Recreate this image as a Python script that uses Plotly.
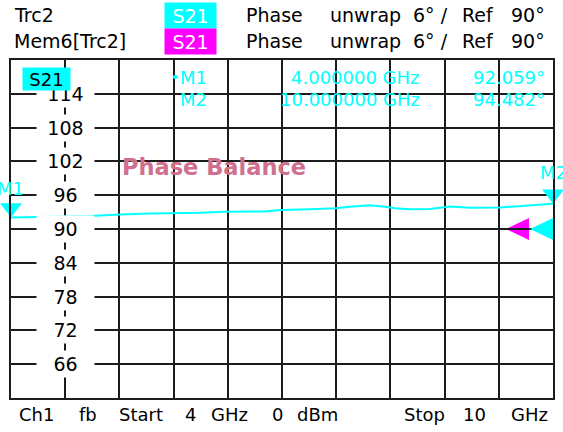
import plotly.graph_objects as go

# ---------------- data ----------------
freq_ghz = [4.000, 4.432, 4.875, 5.207, 5.539, 6.092, 6.369, 6.812, 6.978, 7.310, 7.587,
            7.753, 7.974, 8.140, 8.251, 8.417, 8.638, 8.860, 9.081, 9.413, 9.690, 10.000]
phase_deg = [92.059, 92.13, 92.31, 92.57, 92.75, 92.89, 93.07, 93.11, 93.37, 93.50, 93.67,
             93.96, 94.21, 93.96, 93.67, 93.50, 93.55, 93.99, 93.76, 93.82, 94.17, 94.482]
marker_labels = ["M1", "M2"]
marker_freq_ghz = [4.0, 10.0]
marker_phase_deg = [92.059, 94.482]
y_tick_labels = [114, 108, 102, 96, 90, 84, 78, 72, 66]
ref_level_deg = 90
scale_deg_per_div = 6
start_ghz = 4
stop_ghz = 10
n_div = 10

# ---------------- layout helpers ----------------
W, H = 563, 432
L, R, T, B = 11, 10, 60, 34
PW = W - L - R
PH = H - T - B
FONT = "DejaVu Sans"
CYAN = "#00FFFF"
MAGENTA = "#FF00FF"
GRID = "#1c1c1c"


def px(xpix):
    return (xpix - L) / PW


def py(ypix):
    return (H - B - ypix) / PH


annotations = []


def txt(text, xpix, ypix, size=18, color="black", anchor="center", bg=None, w=None, h=None,
        family=FONT):
    d = dict(text=text, xref="paper", yref="paper", x=px(xpix), y=py(ypix),
             xanchor=anchor, yanchor="middle", showarrow=False, borderpad=0,
             font=dict(family=family, size=size, color=color))
    if bg:
        d["bgcolor"] = bg
    if w:
        d["width"] = w
    if h:
        d["height"] = h
    annotations.append(d)


y_min = ref_level_deg - scale_deg_per_div * 5
y_max = ref_level_deg + scale_deg_per_div * 5
dx = (stop_ghz - start_ghz) / n_div

fig = go.Figure()

# trace
fig.add_trace(go.Scatter(x=freq_ghz, y=phase_deg, mode="lines",
                         line=dict(color=CYAN, width=2), hoverinfo="skip",
                         showlegend=False))
# marker triangles
fig.add_trace(go.Scatter(x=marker_freq_ghz, y=marker_phase_deg, mode="markers",
                         marker=dict(symbol="triangle-up", angle=180, standoff=9.5,
                                     size=19, color=CYAN, line=dict(width=0)),
                         cliponaxis=False, hoverinfo="skip", showlegend=False))

# y labels with white boxes on the 2nd vertical grid line
for v in y_tick_labels:
    annotations.append(dict(text=str(v), xref="x", yref="y", x=start_ghz + dx, y=v,
                            xanchor="center", yanchor="middle", showarrow=False,
                            bgcolor="white", width=57, height=26, borderpad=0,
                            font=dict(family=FONT, size=19, color="black")))

# trace label box
txt("S21", 46.5, 79, size=18, color="black", bg=CYAN, w=47, h=22)

# header
for row_y, name, box_col in [(15, "Trc2", CYAN), (41, "Mem6[Trc2]", MAGENTA)]:
    txt(name, 13, row_y, size=19, anchor="left")
    txt("S21", 190.5, row_y, size=19, color="white", bg=box_col, w=51, h=25)
    txt("Phase", 274, row_y, size=19)
    txt("unwrap", 365, row_y, size=19)
    txt("6° /", 430, row_y, size=19)
    txt("Ref", 478, row_y, size=19)
    txt("90°", 528, row_y, size=19)

# marker table
rows_y = [77, 99]
for i, (name, f, v) in enumerate(zip(marker_labels, marker_freq_ghz, marker_phase_deg)):
    if i == 0:
        txt("•", 170, rows_y[i], size=14, color=CYAN, anchor="left")
    txt(name, 179, rows_y[i], size=18, color=CYAN, anchor="left")
    txt(f"{f:.6f} GHz", 421, rows_y[i], size=18, color=CYAN, anchor="right")
    txt(f"{v:.3f}°", 546, rows_y[i], size=18, color=CYAN, anchor="right")

# marker labels near triangles
annotations.append(dict(text=marker_labels[0], xref="x", yref="y", x=marker_freq_ghz[0],
                        y=marker_phase_deg[0], xanchor="right", yanchor="middle",
                        xshift=15, yshift=29, showarrow=False,
                        font=dict(family=FONT, size=18, color=CYAN)))
annotations.append(dict(text=marker_labels[1], xref="x", yref="y", x=marker_freq_ghz[1],
                        y=marker_phase_deg[1], xanchor="left", yanchor="middle",
                        xshift=-15, yshift=31, showarrow=False,
                        font=dict(family=FONT, size=18, color=CYAN)))

# Phase Balance title
txt("<b>Phase Balance</b>", 121, 167, size=22.5, color="#D0708F", anchor="left")

# bottom line
by = 414
for t, cx in [("Ch1", 36), ("fb", 88), ("Start", 141), (f"{start_ghz}", 190), ("GHz", 229),
              ("0", 277), ("dBm", 317), ("Stop", 424), (f"{stop_ghz}", 474), ("GHz", 529)]:
    txt(t, cx, by, size=18)

# reference level arrows (right edge)
shapes = [
    dict(type="path", xref="x", yref="y", xsizemode="pixel", ysizemode="pixel",
         xanchor=stop_ghz, yanchor=ref_level_deg,
         path="M -24,11 L -24,-11 L -47,0 Z", fillcolor=MAGENTA,
         line=dict(width=0), layer="below"),
    dict(type="path", xref="x", yref="y", xsizemode="pixel", ysizemode="pixel",
         xanchor=stop_ghz, yanchor=ref_level_deg,
         path="M 0,11 L 0,-11 L -23,0 Z", fillcolor=CYAN,
         line=dict(width=0), layer="above"),
]

fig.update_layout(
    width=W, height=H,
    margin=dict(l=L, r=R, t=T, b=B, pad=0, autoexpand=False),
    paper_bgcolor="white", plot_bgcolor="white",
    showlegend=False,
    annotations=annotations,
    shapes=shapes,
    xaxis=dict(range=[start_ghz, stop_ghz], tick0=start_ghz, dtick=dx,
               showgrid=True, gridcolor=GRID, gridwidth=2, zeroline=False,
               showticklabels=False, ticks="", showline=True, mirror=True,
               linecolor=GRID, linewidth=2, fixedrange=True),
    yaxis=dict(range=[y_min, y_max], tick0=y_min, dtick=scale_deg_per_div,
               showgrid=True, gridcolor=GRID, gridwidth=2, zeroline=False,
               showticklabels=False, ticks="", showline=True, mirror=True,
               linecolor=GRID, linewidth=2, fixedrange=True),
)

fig.write_html("out.html", config={"displayModeBar": False},
               post_script="document.body.style.margin='0';document.body.style.overflow='hidden';")
